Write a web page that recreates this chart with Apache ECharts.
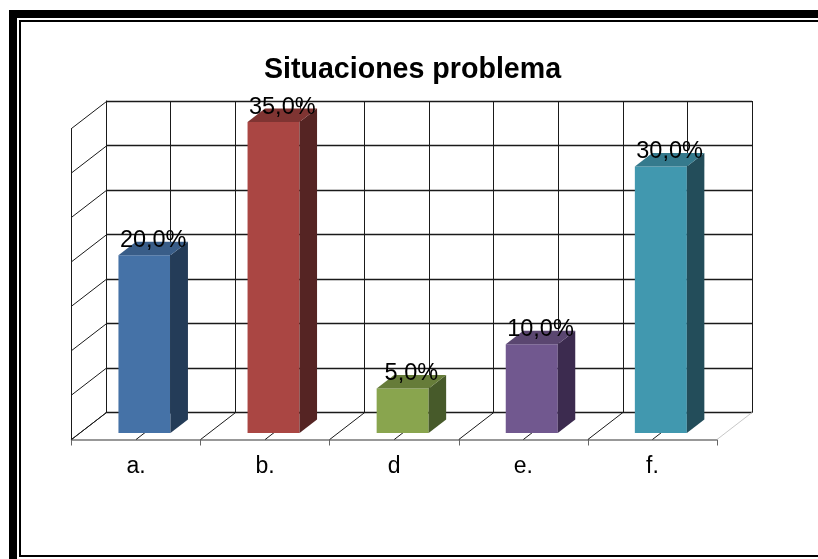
<!DOCTYPE html>
<html><head><meta charset="utf-8">
<style>html,body{margin:0;padding:0;background:#fff}#c{width:818px;height:559px}</style>
<script src="https://cdn.jsdelivr.net/npm/echarts@6/dist/echarts.min.js"></script>
</head><body><div id="c"></div>
<script>
var titleText = 'Situaciones problema';
var categories = ['a.', 'b.', 'd', 'e.', 'f.'];
var values = [20, 35, 5, 10, 30];
var valueLabels = ['20,0%', '35,0%', '5,0%', '10,0%', '30,0%'];
var yTicks = [0, 5, 10, 15, 20, 25, 30, 35];
var xHalfSteps = [0, 0.5, 1, 1.5, 2, 2.5, 3, 3.5, 4, 4.5, 5];
var frontColors = ['#4572A7', '#AA4643', '#89A54E', '#71588F', '#4198AF'];
var topColors = ['#395D88', '#7F3432', '#667C39', '#5A4670', '#357A8D'];
var sideColors = ['#243C58', '#552423', '#475A2A', '#3C2B4F', '#234D5A'];

var DX = 35, DY = 27;            // depth of the floor
var NEAR = 0.24, FAR = 0.74;     // bar position inside the depth
var BAR_W = 52;
var FONT = '"Liberation Sans", Arial, sans-serif';
var GRID_C = '#1a1a1a';

var chart = echarts.init(document.getElementById('c'), null, {renderer: 'canvas'});

function poly(pts, color) {
  return {type: 'polygon', shape: {points: pts}, style: {fill: color}};
}
function seg(a, b, color) {
  return {type: 'line', shape: {x1: a[0], y1: a[1], x2: b[0], y2: b[1]},
    style: {stroke: color, lineWidth: 1, fill: null}};
}

function renderBar(params, api) {
  var i = api.value(0), v = api.value(1);
  var base = api.coord([i, 0]), top = api.coord([i, v]);
  var cx = base[0] + NEAR * DX;
  var xl = cx - BAR_W / 2, xr = cx + BAR_W / 2;
  var yb = base[1] - NEAR * DY, yt = top[1] - NEAR * DY;
  var ox = (FAR - NEAR) * DX, oy = (FAR - NEAR) * DY;
  return {type: 'group', children: [
    poly([[xl, yb], [xr, yb], [xr, yt], [xl, yt]], frontColors[i]),
    poly([[xr, yb], [xr + ox, yb - oy], [xr + ox, yt - oy], [xr, yt]], sideColors[i]),
    poly([[xl, yt], [xr, yt], [xr + ox, yt - oy], [xl + ox, yt - oy]], topColors[i])
  ]};
}
function renderLabel(params, api) {
  var i = api.value(0), v = api.value(1);
  var top = api.coord([i, v]);
  var cx = top[0] + (NEAR + FAR) / 2 * DX;
  return {type: 'text', style: {
    x: cx, y: top[1] - NEAR * DY - 15, text: valueLabels[i], fill: '#000',
    font: '23.5px ' + FONT, textAlign: 'center', textVerticalAlign: 'middle'}};
}
// left wall diagonals: one per y tick
function renderWall(params, api) {
  var y = api.coord([0, api.value(1)])[1];
  var x = params.coordSys.x;
  return seg([x, y], [x + DX, y - DY], GRID_C);
}
// floor diagonals: one per half category
function renderFloor(params, api) {
  var step = api.value(2);
  var cs = params.coordSys;
  var y = api.coord([0, 0])[1];
  var x = cs.x + step * cs.width / categories.length;
  return seg([x, y], [x + DX, y - DY], step === 5 ? '#c8c8c8' : GRID_C);
}

var frameFront = {left: 71.5, right: 101, top: 128.5, bottom: 119.5};
var frameBack = {left: 106, right: 66, top: 101, bottom: 146.5};

chart.setOption({
  animation: false,
  backgroundColor: '#fff',
  title: {text: titleText, left: 407.5, top: 51, textAlign: 'center',
    textStyle: {fontFamily: FONT, fontWeight: 'bold', fontSize: 28.6, color: '#000'}},
  grid: [
    Object.assign({}, frameBack, {containLabel: false}),
    Object.assign({}, frameFront, {containLabel: false})
  ],
  xAxis: [
    {gridIndex: 0, type: 'value', min: 0, max: 5, interval: 0.5, silent: true,
      axisLabel: {show: false}, axisTick: {show: false},
      axisLine: {show: true, onZero: false, lineStyle: {color: GRID_C, width: 1}},
      splitLine: {show: true, lineStyle: {color: GRID_C, width: 1}}},
    {gridIndex: 1, type: 'category', data: categories,
      axisLabel: {show: true, color: '#000', fontFamily: FONT, fontSize: 23, margin: 16, interval: 0},
      axisTick: {show: true, length: 6, alignWithLabel: false, interval: 0, lineStyle: {color: '#666', width: 1}},
      axisLine: {show: true, onZero: false, lineStyle: {color: '#777', width: 1.5}},
      splitLine: {show: false}}
  ],
  yAxis: [
    {gridIndex: 0, type: 'value', min: 0, max: 35, interval: 5,
      axisLabel: {show: false}, axisTick: {show: false},
      axisLine: {show: true, lineStyle: {color: GRID_C, width: 1}},
      splitLine: {show: true, lineStyle: {color: GRID_C, width: 1.3}}},
    {gridIndex: 1, type: 'value', min: 0, max: 35, interval: 5,
      axisLabel: {show: false}, axisTick: {show: false},
      axisLine: {show: true, lineStyle: {color: GRID_C, width: 1}},
      splitLine: {show: false}}
  ],
  series: [
    {type: 'custom', xAxisIndex: 1, yAxisIndex: 1, silent: true, z: 3,
      encode: {x: 0, y: 1}, data: yTicks.map(function (t) { return [0, t]; }), renderItem: renderWall, clip: false},
    {type: 'custom', xAxisIndex: 1, yAxisIndex: 1, silent: true, z: 3,
      encode: {x: 0, y: 1}, data: xHalfSteps.map(function (s) { return [0, 0, s]; }), renderItem: renderFloor, clip: false},
    {type: 'custom', xAxisIndex: 1, yAxisIndex: 1, silent: true, z: 4,
      encode: {x: 0, y: 1}, data: values.map(function (v, i) { return [i, v]; }), renderItem: renderBar, clip: false},
    {type: 'custom', xAxisIndex: 1, yAxisIndex: 1, silent: true, z: 6,
      encode: {x: 0, y: 1}, data: values.map(function (v, i) { return [i, v]; }), renderItem: renderLabel, clip: false}
  ],
  graphic: [
    {type: 'rect', silent: true, z: 10, shape: {x: 9, y: 10, width: 820, height: 8}, style: {fill: '#000'}},
    {type: 'rect', silent: true, z: 10, shape: {x: 9, y: 10, width: 8, height: 560}, style: {fill: '#000'}},
    {type: 'rect', silent: true, z: 10, shape: {x: 19, y: 20, width: 820, height: 2}, style: {fill: '#000'}},
    {type: 'rect', silent: true, z: 10, shape: {x: 19, y: 20, width: 2, height: 537}, style: {fill: '#000'}},
    {type: 'rect', silent: true, z: 10, shape: {x: 19, y: 555, width: 800, height: 2}, style: {fill: '#000'}}
  ]
});
</script></body></html>
